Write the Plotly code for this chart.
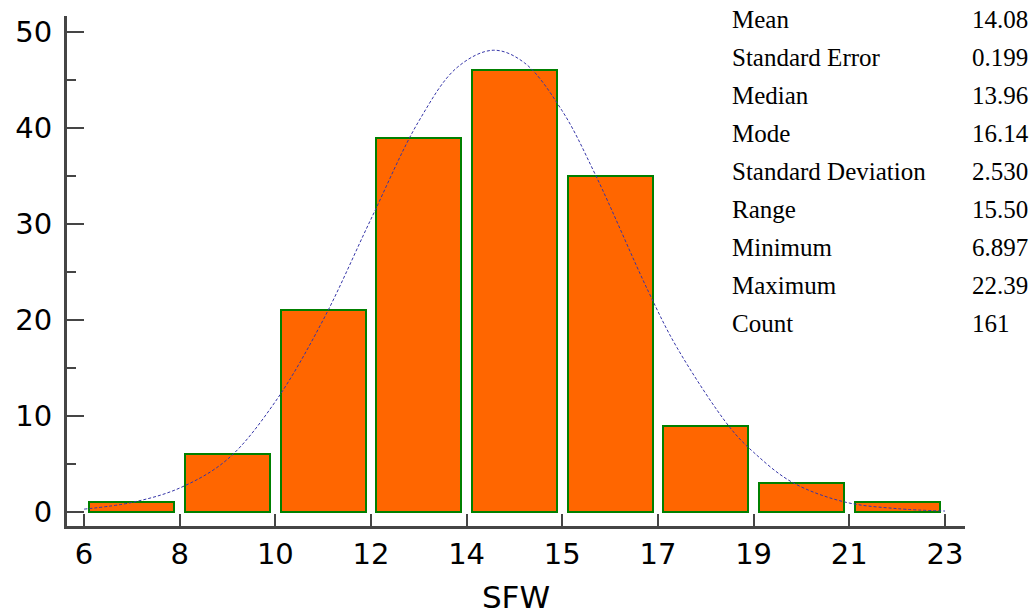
import plotly.graph_objects as go

# Histogram of SFW: bin edges, tick labels and counts per bin
bin_edges = [6.897, 8.618, 10.340, 12.061, 13.782, 15.504, 17.225, 18.946, 20.668, 22.390]
edge_labels = ["6", "8", "10", "12", "14", "15", "17", "19", "21", "23"]
counts = [1, 6, 21, 39, 46, 35, 9, 3, 1]

# Fitted normal curve (SFW value, frequency)
curve_x = [6.90, 7.76, 8.62, 9.48, 10.34, 11.20, 12.06, 12.92, 13.61, 14.26,
           14.82, 15.50, 16.11, 17.05, 17.57, 18.52, 18.95, 19.64, 20.58, 21.53, 22.39]
curve_y = [0.3, 1.0, 2.5, 5.5, 11.5, 20.0, 30.5, 40.7, 46.3, 48.1,
           46.8, 41.8, 35.0, 23.0, 17.1, 8.8, 6.2, 3.1, 1.05, 0.35, 0.1]

# Descriptive statistics table
stat_names = ["Mean", "Standard Error", "Median", "Mode", "Standard Deviation",
              "Range", "Minimum", "Maximum", "Count"]
stat_values = ["14.08", "0.199", "13.96", "16.14", "2.530", "15.50", "6.897", "22.39", "161"]

bin_centers = [(a + b) / 2 for a, b in zip(bin_edges[:-1], bin_edges[1:])]
bin_width = bin_edges[1] - bin_edges[0]

fig = go.Figure()
fig.add_trace(go.Bar(
    x=bin_centers, y=counts, width=bin_width * 0.888,
    marker=dict(color="#FF6600", line=dict(color="#008000", width=2)),
    hoverinfo="x+y",
))
fig.add_trace(go.Scatter(
    x=curve_x, y=curve_y, mode="lines",
    line=dict(color="#3535A8", width=1, dash="3px,2px", shape="spline", smoothing=1.0),
    hoverinfo="skip",
))

W, H = 1036, 615
ml, mr, mt, mb = 67, 71, 16, 89
pw, ph = W - ml - mr, H - mt - mb

def px_x(p):
    return (p - ml) / pw

def px_y(p):
    return (H - mb - p) / ph

stat_font = dict(family="Liberation Serif", size=25, color="#000")
annotations = []
for i, (name, val) in enumerate(zip(stat_names, stat_values)):
    yc = 20 + i * 37.9
    annotations.append(dict(x=px_x(730), y=px_y(yc), xref="paper", yref="paper",
                            text=name, showarrow=False, xanchor="left", yanchor="middle",
                            font=stat_font))
    annotations.append(dict(x=px_x(970), y=px_y(yc), xref="paper", yref="paper",
                            text=val, showarrow=False, xanchor="left", yanchor="middle",
                            font=stat_font))

axis_color = "#454545"
tick_font = dict(family="DejaVu Sans", size=29, color="#000")
fig.update_layout(
    width=W, height=H,
    margin=dict(l=ml, r=mr, t=mt, b=mb, pad=0),
    paper_bgcolor="white", plot_bgcolor="white",
    showlegend=False,
    bargap=0,
    annotations=annotations,
    font=dict(family="DejaVu Sans", color="#000"),
    xaxis=dict(
        range=[6.591, 22.750],
        tickvals=bin_edges, ticktext=edge_labels,
        ticks="inside", ticklen=12, tickwidth=2, tickcolor=axis_color,
        showline=True, linecolor=axis_color, linewidth=3,
        showgrid=False, zeroline=False, automargin=False,
        tickfont=tick_font,
        title=dict(text="SFW", font=dict(family="DejaVu Sans", size=31, color="#000"), standoff=17),
    ),
    yaxis=dict(
        range=[-1.458, 51.667],
        tickvals=[0, 10, 20, 30, 40, 50],
        ticks="inside", ticklen=17, tickwidth=2, tickcolor=axis_color,
        minor=dict(tickvals=[5, 15, 25, 35, 45], ticks="inside", ticklen=9,
                   tickwidth=2, tickcolor=axis_color),
        showline=True, linecolor=axis_color, linewidth=3,
        showgrid=False, zeroline=False, automargin=False,
        tickfont=tick_font,
        ticklabelstandoff=6,
    ),
)

fig.write_html("out.html")
